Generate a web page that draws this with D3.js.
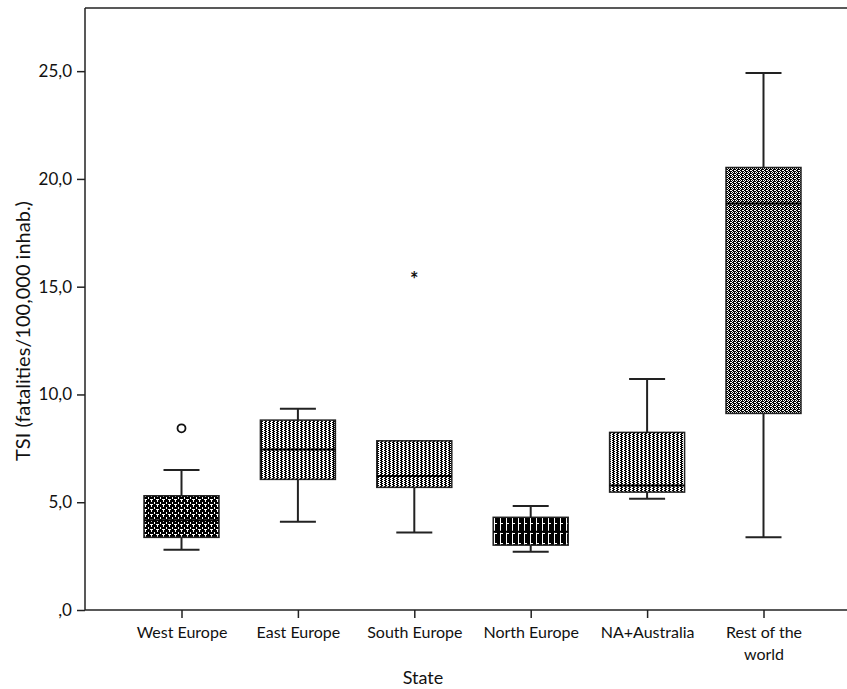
<!DOCTYPE html>
<html><head><meta charset="utf-8">
<script src="https://cdn.jsdelivr.net/npm/d3@7"></script>
<style>
body{margin:0;background:#fff;}
svg text{font-family:Lato, "Open Sans", sans-serif;fill:#111;}
</style></head>
<body><svg id="c" width="847" height="689"></svg>
<script>
const categories = ["West Europe","East Europe","South Europe","North Europe","NA+Australia","Rest of the world"];
const whiskerLow  = [2.80, 4.10, 3.59, 2.70, 5.16, 3.37];
const q1          = [3.37, 6.06, 5.69, 3.01, 5.47, 9.12];
const median      = [4.16, 7.45, 6.22, 3.63, 5.78, 18.86];
const q3          = [5.30, 8.81, 7.85, 4.30, 8.24, 20.53];
const whiskerHigh = [6.49, 9.34, 7.85, 4.82, 10.72, 24.92];
const outlierCircles = [{cat:"West Europe", v:8.43}];
const extremeStars = [{cat:"South Europe", v:15.65}];
const yTicks = [0,5,10,15,20,25];
const patterns = ["pWE","pEE","pSE","pNE","pNA","pRW"];

const svg = d3.select("#c");
const mLeft=85, mTop=8, mBottom=610, mRight=847;
const y = d3.scaleLinear().domain([0,27.93]).range([mBottom, mTop]);
const x = d3.scalePoint().domain(categories).range([181.5, 763.5]);
const boxW = 75, capW = 36;

// patterns
const defs = svg.append("defs");
function pat(id,w,h,bg,rects,fg){
  const p = defs.append("pattern").attr("id",id).attr("patternUnits","userSpaceOnUse").attr("width",w).attr("height",h);
  p.append("rect").attr("width",w).attr("height",h).attr("fill",bg);
  rects.forEach(r=>p.append("rect").attr("x",r[0]).attr("y",r[1]).attr("width",r[2]).attr("height",r[3]).attr("fill",fg));
}
pat("pWE",6,5,"#000",[[1,0,1,2],[4,2,1,2],[0,4,3,1]],"#fff");
const ee = [[0,0,2,1],[1,1,2,1],[0,2,2,1],[1,3,2,1]];
pat("pEE",4,4,"#fff",ee,"#000");
pat("pSE",4,4,"#fff",ee,"#000");
pat("pNA",4,4,"#fff",ee,"#000");
pat("pNE",6,10,"#000",[[2,0,1,10],[3,3,2,1]],"#fff");
pat("pRW",4,4,"#000",[[1,0,1,1],[3,0,1,1],[0,1,1,1],[2,2,2,1],[0,3,1,1]],"#fff");

// frame top
svg.append("line").attr("x1",mLeft).attr("x2",mRight).attr("y1",mTop).attr("y2",mTop).attr("stroke","#222").attr("stroke-width",1.5);

// axes
const yAxis = svg.append("g").attr("transform",`translate(${mLeft},0)`)
  .call(d3.axisLeft(y).tickValues(yTicks).tickSize(8).tickPadding(5)
    .tickFormat(d=> d===0 ? ",0" : d3.format(".1f")(d).replace(".",",")));
yAxis.select(".domain").attr("d",`M0,${mTop}V${mBottom}`).attr("stroke","#222").attr("stroke-width",1.5);
yAxis.selectAll(".tick line").attr("stroke","#222").attr("stroke-width",1.5);
yAxis.selectAll("text").attr("font-size",17);

const xAxis = svg.append("g").attr("transform",`translate(0,${mBottom})`)
  .call(d3.axisBottom(x).tickSize(8).tickPadding(9));
xAxis.select(".domain").attr("d",`M${mLeft},0H${mRight}`).attr("stroke","#222").attr("stroke-width",1.5);
xAxis.selectAll(".tick line").attr("stroke","#222").attr("stroke-width",1.5);
xAxis.selectAll(".tick text").attr("font-size",16).each(function(d){
  const t=d3.select(this);
  if(d==="Rest of the world"){
    t.text(null);
    t.append("tspan").attr("x",0).attr("dy","0.71em").text("Rest of the");
    t.append("tspan").attr("x",0).attr("dy","1.35em").text("world");
  }
});

// boxes
const g = svg.append("g");
categories.forEach((c,i)=>{
  const cx = x(c);
  const wc = "#222";
  g.append("line").attr("x1",cx).attr("x2",cx).attr("y1",y(whiskerHigh[i])).attr("y2",y(q3[i])).attr("stroke",wc).attr("stroke-width",2);
  g.append("line").attr("x1",cx).attr("x2",cx).attr("y1",y(q1[i])).attr("y2",y(whiskerLow[i])).attr("stroke",wc).attr("stroke-width",2);
  if(whiskerHigh[i]>q3[i]) g.append("line").attr("x1",cx-capW/2).attr("x2",cx+capW/2).attr("y1",y(whiskerHigh[i])).attr("y2",y(whiskerHigh[i])).attr("stroke",wc).attr("stroke-width",2);
  g.append("line").attr("x1",cx-capW/2).attr("x2",cx+capW/2).attr("y1",y(whiskerLow[i])).attr("y2",y(whiskerLow[i])).attr("stroke",wc).attr("stroke-width",2);
  g.append("rect").attr("x",cx-boxW/2).attr("width",boxW).attr("y",y(q3[i])).attr("height",y(q1[i])-y(q3[i]))
    .attr("fill",`url(#${patterns[i]})`).attr("stroke","#222").attr("stroke-width",1.5);
  g.append("line").attr("x1",cx-boxW/2).attr("x2",cx+boxW/2).attr("y1",y(median[i])).attr("y2",y(median[i])).attr("stroke","#000").attr("stroke-width",2);
});
outlierCircles.forEach(o=>{
  g.append("circle").attr("cx",x(o.cat)).attr("cy",y(o.v)).attr("r",4).attr("fill","#fff").attr("stroke","#111").attr("stroke-width",1.8);
});
extremeStars.forEach(o=>{
  g.append("text").attr("x",x(o.cat)).attr("y",y(o.v)).attr("dy","0.72em").attr("text-anchor","middle").attr("font-size",20).attr("font-weight","bold").text("*");
});

// titles
svg.append("text").attr("x",423).attr("y",684).attr("text-anchor","middle").attr("font-size",18).text("State");
svg.append("text").attr("transform",`translate(30,331) rotate(-90)`).attr("text-anchor","middle").attr("font-size",20).text("TSI (fatalities/100,000 inhab.)");
</script></body></html>
